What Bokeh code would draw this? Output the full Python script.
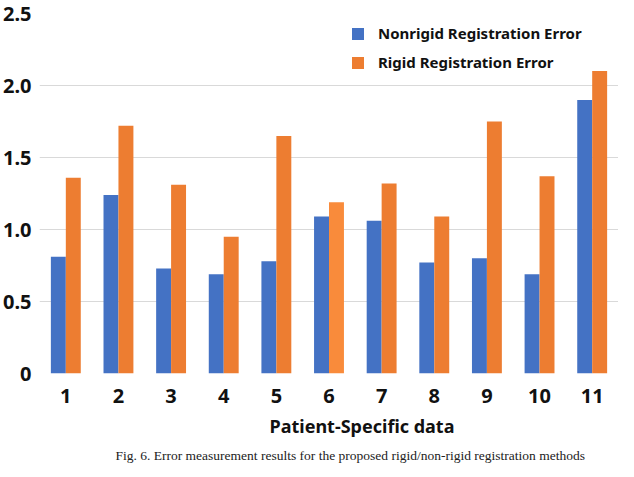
from bokeh.plotting import figure
from bokeh.models import (ColumnDataSource, FactorRange, Range1d, FixedTicker,
                          NumeralTickFormatter, Legend, LegendItem, Title)
from bokeh.transform import dodge
from bokeh.embed import file_html
from bokeh.resources import INLINE

# ---- data ----
categories = ["1", "2", "3", "4", "5", "6", "7", "8", "9", "10", "11"]
nonrigid = [0.81, 1.24, 0.73, 0.69, 0.78, 1.09, 1.06, 0.77, 0.80, 0.69, 1.90]
rigid = [1.36, 1.72, 1.31, 0.95, 1.65, 1.19, 1.32, 1.09, 1.75, 1.37, 2.10]
y_ticks = [0, 0.5, 1.0, 1.5, 2.0, 2.5]
series_names = ["Nonrigid Registration Error", "Rigid Registration Error"]
x_title = "Patient-Specific data"
caption = "Fig. 6. Error measurement results for the proposed rigid/non-rigid registration methods"

BLUE = "#4472C4"
ORANGE = "#ED7D31"
rigid_colors = [ORANGE] * len(categories)
rigid_colors[5] = "#F98B3B"

src = ColumnDataSource(dict(cat=categories, nonrigid=nonrigid, rigid=rigid,
                            rcol=rigid_colors))

FONT = "Noto Sans"

p = figure(x_range=FactorRange(*categories),
           y_range=Range1d(0, 2.5), output_backend="svg", toolbar_location=None,
           min_border_left=39, min_border_right=0, min_border_top=13,
           min_border_bottom=0)
p.frame_height = 360
p.frame_width = 579
p.outline_line_color = None
p.background_fill_color = "white"

bw = 0.284
r1 = p.vbar(x=dodge("cat", -bw / 2, range=p.x_range), top="nonrigid", width=bw,
            source=src, fill_color=BLUE, line_color=None)
r2 = p.vbar(x=dodge("cat", bw / 2, range=p.x_range), top="rigid", width=bw,
            source=src, fill_color="rcol", line_color=None)

# axes
p.yaxis.ticker = FixedTicker(ticks=y_ticks)
p.yaxis.formatter = NumeralTickFormatter(format="0.0")
p.yaxis.major_label_overrides = {0: "0"}
for ax in (p.xaxis[0], p.yaxis[0]):
    ax.axis_line_color = None
    ax.major_tick_line_color = None
    ax.minor_tick_line_color = None
    ax.major_tick_out = 0
    ax.major_tick_in = 0
    ax.major_label_text_font = FONT
    ax.major_label_text_font_style = "bold"
    ax.major_label_text_font_size = "20px"
    ax.major_label_text_color = "#111111"
p.yaxis.major_label_standoff = 8
p.xaxis.major_label_standoff = 15

p.xgrid.grid_line_color = None
p.ygrid.grid_line_color = "#D9D9D9"
p.ygrid.grid_line_width = 1.2

# legend
legend = Legend(items=[LegendItem(label=series_names[0], renderers=[r1]),
                       LegendItem(label=series_names[1], renderers=[r2])],
                location=(311, 301))
legend.glyph_width = 15
legend.glyph_height = 15
legend.label_height = 15
legend.spacing = 9
legend.padding = 0
legend.margin = 0
legend.label_standoff = 13
legend.border_line_color = None
legend.background_fill_alpha = 0
legend.label_text_font = FONT
legend.label_text_font_style = "bold"
legend.label_text_font_size = "15px"
legend.label_text_color = "#111111"
p.add_layout(legend, "center")

# titles below
t1 = Title(text=x_title, align="left", offset=230, text_font=FONT,
           text_font_style="bold", text_font_size="18px", text_color="#111111",
           standoff=12)
t2 = Title(text=caption, align="left", offset=76, text_font="Liberation Serif",
           text_font_style="normal", text_font_size="13.5px", text_color="#222222",
           standoff=4)
p.add_layout(t1, "below")
p.add_layout(t2, "below")

open("out.html", "w").write(file_html(p, INLINE))
